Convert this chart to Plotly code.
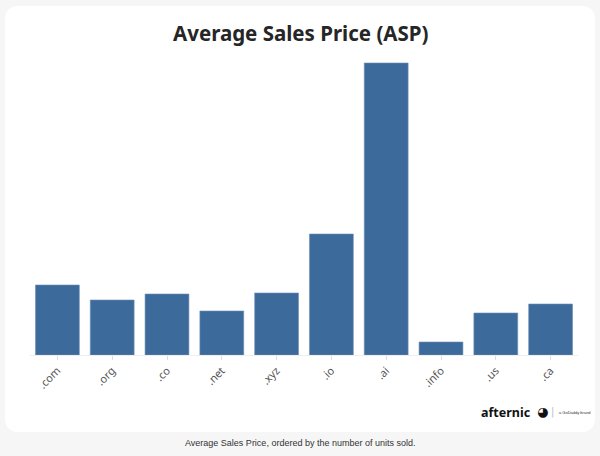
import plotly.graph_objects as go

categories = [".com", ".org", ".co", ".net", ".xyz", ".io", ".ai", ".info", ".us", ".ca"]
asp_values = [70, 55, 61, 44, 62, 121, 292, 13, 42, 51]

W, H = 600, 456
ML, MR, MT, MB = 30, 22, 60, 101
PW, PH = W - ML - MR, H - MT - MB

def px_x(px):
    return (px - ML) / PW

def px_y(py):
    return (H - MB - py) / PH

# rounded card path in paper coords
x0, x1, y0, y1, r = 5, 595, 6, 432, 14
def pt(x, y):
    return f"{px_x(x):.5f},{px_y(y):.5f}"
card_path = (
    f"M {pt(x0 + r, y0)} L {pt(x1 - r, y0)} Q {pt(x1, y0)} {pt(x1, y0 + r)} "
    f"L {pt(x1, y1 - r)} Q {pt(x1, y1)} {pt(x1 - r, y1)} "
    f"L {pt(x0 + r, y1)} Q {pt(x0, y1)} {pt(x0, y1 - r)} "
    f"L {pt(x0, y0 + r)} Q {pt(x0, y0)} {pt(x0 + r, y0)} Z"
)

fig = go.Figure(
    go.Bar(
        x=categories,
        y=asp_values,
        marker=dict(color="#3c6a9b", line=dict(width=0.6, color="#6d8fb6")),
        hoverinfo="x+y",
    )
)

fig.update_layout(
    width=W,
    height=H,
    margin=dict(l=ML, r=MR, t=MT, b=MB),
    paper_bgcolor="#f6f6f6",
    plot_bgcolor="rgba(0,0,0,0)",
    bargap=0.2,
    showlegend=False,
    shapes=[
        dict(type="path", xref="paper", yref="paper", path=card_path,
             fillcolor="white", line=dict(width=0), layer="below"),
    ],
    annotations=[
        dict(text="<b>Average Sales Price (ASP)</b>", xref="paper", yref="paper",
             x=px_x(301), y=px_y(33), xanchor="center", yanchor="middle",
             showarrow=False, font=dict(family="Noto Sans", size=20.5, color="#262626")),
        dict(text="Average Sales Price, ordered by the number of units sold.",
             xref="paper", yref="paper", x=px_x(300), y=px_y(443),
             xanchor="center", yanchor="middle", showarrow=False,
             font=dict(family="Liberation Sans", size=9, color="#333333")),
        dict(text="<b>afternic</b>", xref="paper", yref="paper",
             x=px_x(533), y=px_y(412), xanchor="right", yanchor="middle",
             showarrow=False, font=dict(family="Noto Sans", size=12.5, color="#111111")),
        dict(text="◕", xref="paper", yref="paper",
             x=px_x(542), y=px_y(411), xanchor="center", yanchor="middle",
             showarrow=False, font=dict(family="DejaVu Sans", size=13, color="#111111")),
        dict(text="|", xref="paper", yref="paper",
             x=px_x(552), y=px_y(412), xanchor="center", yanchor="middle",
             showarrow=False, font=dict(family="DejaVu Sans", size=10, color="#bbbbbb")),
        dict(text="a GoDaddy brand", xref="paper", yref="paper",
             x=px_x(557), y=px_y(412), xanchor="left", yanchor="middle",
             showarrow=False, font=dict(family="Liberation Sans", size=4, color="#333333")),
    ],
    xaxis=dict(
        type="category",
        range=[-0.5, len(categories) - 0.5],
        showline=True, linecolor="#eeeeee", linewidth=1,
        ticks="outside", ticklen=4, tickcolor="#dddddd",
        tickangle=-45,
        tickfont=dict(family="Noto Sans", size=11, color="#555555"),
        showgrid=False,
    ),
    yaxis=dict(
        range=[0, 295],
        visible=False,
        showgrid=False,
        zeroline=False,
    ),
)

fig.write_html(
    "out.html",
    config={"displayModeBar": False},
    post_script="document.body.style.margin='0';document.body.style.overflow='hidden';",
)
